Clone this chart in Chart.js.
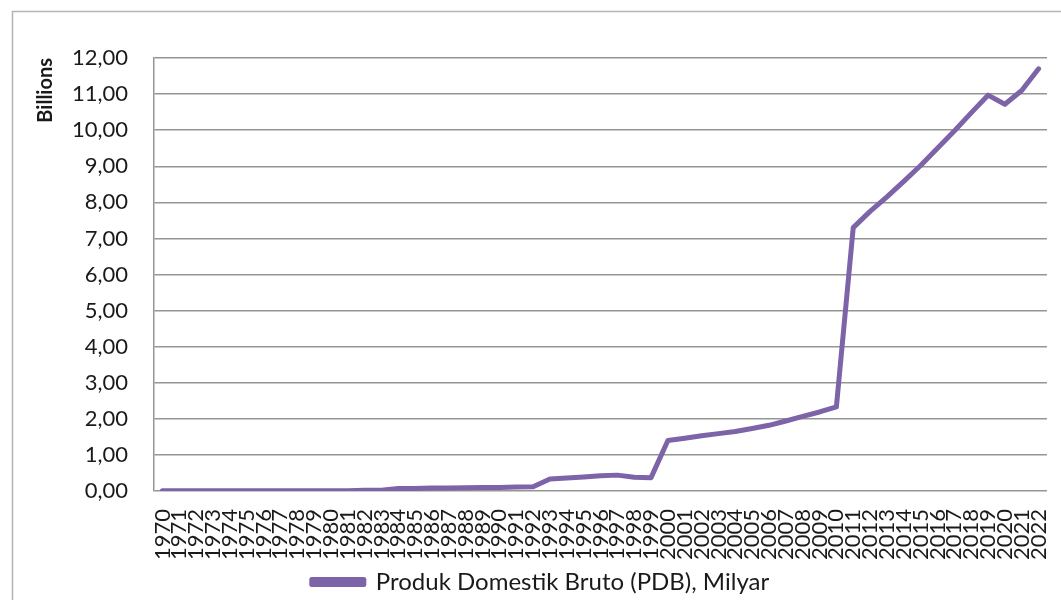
<!DOCTYPE html>
<html>
<head>
<meta charset="utf-8">
<script src="https://cdn.jsdelivr.net/npm/chart.js@4.4.1/dist/chart.umd.min.js"></script>
<style>
  html, body { margin: 0; padding: 0; background: #ffffff; }
  #wrap { position: relative; width: 1061px; height: 600px; }
  canvas { display: block; }
</style>
</head>
<body>
<div id="wrap"><canvas id="pdb" width="1061" height="600"></canvas></div>
<script>
// Tahun pengamatan
const years = [
  '1970','1971','1972','1973','1974','1975','1976','1977','1978','1979',
  '1980','1981','1982','1983','1984','1985','1986','1987','1988','1989',
  '1990','1991','1992','1993','1994','1995','1996','1997','1998','1999',
  '2000','2001','2002','2003','2004','2005','2006','2007','2008','2009',
  '2010','2011','2012','2013','2014','2015','2016','2017','2018','2019',
  '2020','2021','2022'
];

// Produk Domestik Bruto (PDB), dalam miliar (sumbu dalam Billions)
const pdbValues = [
  0.01, 0.01, 0.01, 0.01, 0.01, 0.01, 0.01, 0.01, 0.01, 0.01,
  0.01, 0.01, 0.02, 0.02, 0.07, 0.07, 0.08, 0.08, 0.09, 0.10,
  0.10, 0.11, 0.12, 0.33, 0.36, 0.39, 0.42, 0.44, 0.38, 0.37,
  1.40, 1.46, 1.53, 1.59, 1.65, 1.73, 1.82, 1.94, 2.07, 2.19,
  2.33, 7.30, 7.75, 8.15, 8.58, 9.02, 9.50, 9.98, 10.48, 10.97,
  10.72, 11.10, 11.70
];

const seriesLabel = 'Produk Domestik Bruto (PDB), Milyar';
const yTitle = 'Billions';

const lineColor = '#7d63a8';
const gridColor = '#959595';
const textColor = '#1a1a1a';
const fontFamily = 'Lato, "Open Sans", "Liberation Sans", sans-serif';

// Thin outer frame around the chart
const framePlugin = {
  id: 'frame',
  beforeDraw(chart) {
    const ctx = chart.ctx;
    ctx.save();
    ctx.fillStyle = '#ffffff';
    ctx.fillRect(0, 0, chart.width, chart.height);
    ctx.strokeStyle = '#b4b4b4';
    ctx.lineWidth = 1.5;
    ctx.strokeRect(12.5, 11.5, chart.width + 20, chart.height + 20);
    ctx.restore();
  }
};

new Chart(document.getElementById('pdb'), {
  type: 'line',
  data: {
    labels: years,
    datasets: [{
      label: seriesLabel,
      data: pdbValues,
      borderColor: lineColor,
      backgroundColor: lineColor,
      borderWidth: 5,
      borderJoinStyle: 'round',
      borderCapStyle: 'round',
      pointRadius: 0,
      pointHoverRadius: 0,
      tension: 0,
      fill: false
    }]
  },
  options: {
    responsive: false,
    animation: false,
    devicePixelRatio: 1,
    layout: {
      autoPadding: false,
      padding: { left: 34, right: 14, top: 58, bottom: -4 }
    },
    plugins: {
      tooltip: { enabled: false },
      legend: {
        display: true,
        position: 'bottom',
        labels: {
          color: textColor,
          font: { family: fontFamily, size: 24 },
          boxWidth: 52,
          boxHeight: 5,
          padding: 0
        }
      }
    },
    scales: {
      x: {
        offset: true,
        grid: { display: false, drawTicks: false },
        border: { display: false },
        ticks: {
          autoSkip: false,
          minRotation: 90,
          maxRotation: 90,
          padding: 18,
          color: textColor,
          font: { family: fontFamily, size: 22 }
        },
        afterFit(scale) {
          scale.height = 79;
          scale.paddingLeft = 0;
          scale.paddingRight = 0;
        }
      },
      y: {
        min: 0,
        max: 12,
        grid: { color: gridColor, lineWidth: 1.5, drawTicks: false },
        border: { display: true, color: gridColor, width: 1.5 },
        ticks: {
          stepSize: 1,
          padding: 26,
          color: textColor,
          font: { family: fontFamily, size: 22 },
          callback: v => v.toFixed(2).replace('.', ',')
        },
        title: {
          display: true,
          text: yTitle,
          align: 'end',
          color: textColor,
          font: { family: fontFamily, size: 20, weight: 'bold' },
          padding: { top: 0, bottom: 0 }
        },
        afterFit(scale) {
          scale.width = 120;
          scale.paddingTop = 0;
          scale.paddingBottom = 0;
        }
      }
    }
  },
  plugins: [framePlugin]
});
</script>
</body>
</html>
